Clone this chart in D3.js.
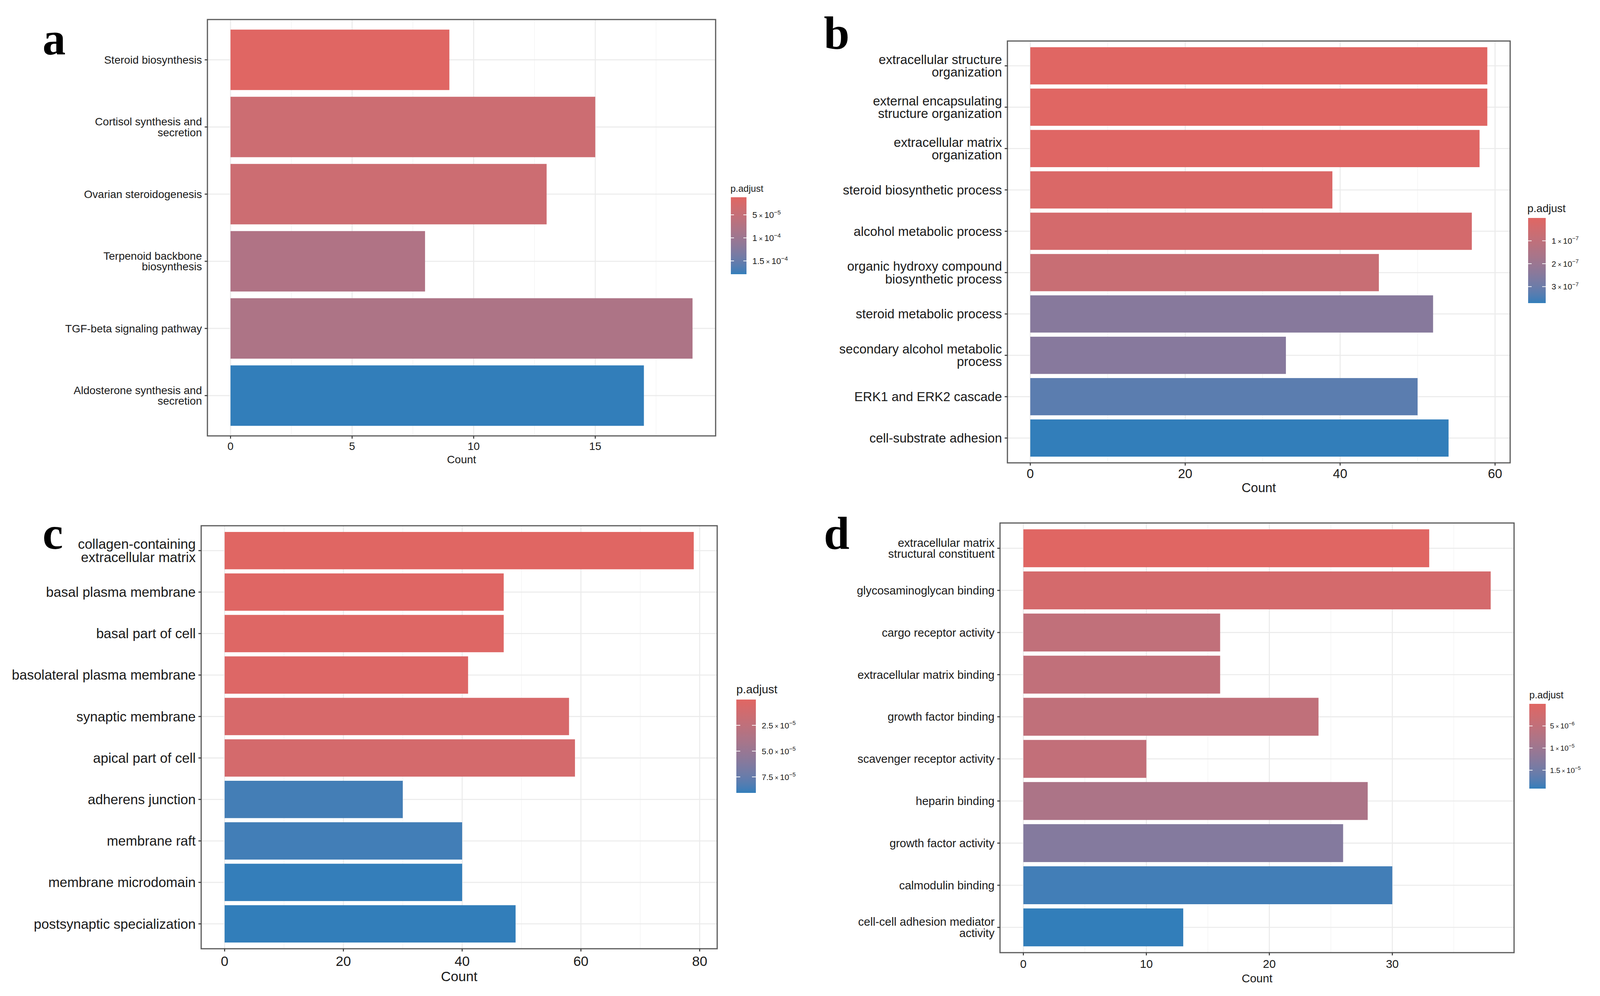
<!DOCTYPE html>
<html>
<head>
<meta charset="utf-8">
<script src="https://cdn.jsdelivr.net/npm/d3@7"></script>
<style>
  html, body { margin: 0; padding: 0; background: #fff; }
  svg { display: block; }
</style>
</head>
<body>
<svg id="chart" width="4120" height="2550"></svg>
<script>
// ---------------- DATA ----------------
// Panel a (KEGG)
const catsA = ["Steroid biosynthesis", "Cortisol synthesis and\nsecretion", "Ovarian steroidogenesis",
  "Terpenoid backbone\nbiosynthesis", "TGF-beta signaling pathway", "Aldosterone synthesis and\nsecretion"];
const countA = [9, 15, 13, 8, 19, 17];
const padjA = [1.19e-5, 4.03e-5, 4.05e-5, 7.7e-5, 8.0e-5, 1.788e-4];
const xTicksA = [0, 5, 10, 15];
const legTicksA = [5e-5, 1e-4, 1.5e-4];
const legLabelsA = [["5", "−5"], ["1", "−4"], ["1.5", "−4"]];

// Panel b (GO BP)
const catsB = ["extracellular structure\norganization", "external encapsulating\nstructure organization",
  "extracellular matrix\norganization", "steroid biosynthetic process", "alcohol metabolic process",
  "organic hydroxy compound\nbiosynthetic process", "steroid metabolic process",
  "secondary alcohol metabolic\nprocess", "ERK1 and ERK2 cascade", "cell-substrate adhesion"];
const countB = [59, 59, 58, 39, 57, 45, 52, 33, 50, 54];
const padjB = [2.0e-10, 5.0e-10, 3.1e-9, 1.9e-8, 3.7e-8, 7.5e-8, 2.46e-7, 2.47e-7, 3.27e-7, 3.72e-7];
const xTicksB = [0, 20, 40, 60];
const legTicksB = [1e-7, 2e-7, 3e-7];
const legLabelsB = [["1", "−7"], ["2", "−7"], ["3", "−7"]];

// Panel c (GO CC)
const catsC = ["collagen-containing\nextracellular matrix", "basal plasma membrane", "basal part of cell",
  "basolateral plasma membrane", "synaptic membrane", "apical part of cell", "adherens junction",
  "membrane raft", "membrane microdomain", "postsynaptic specialization"];
const countC = [79, 47, 47, 41, 58, 59, 30, 40, 40, 49];
const padjC = [2e-8, 1.0e-6, 1.8e-6, 2.7e-6, 7.2e-6, 9.0e-6, 8.65e-5, 8.7e-5, 9.02e-5, 9.05e-5];
const xTicksC = [0, 20, 40, 60, 80];
const legTicksC = [2.5e-5, 5e-5, 7.5e-5];
const legLabelsC = [["2.5", "−5"], ["5.0", "−5"], ["7.5", "−5"]];

// Panel d (GO MF)
const catsD = ["extracellular matrix\nstructural constituent", "glycosaminoglycan binding", "cargo receptor activity",
  "extracellular matrix binding", "growth factor binding", "scavenger receptor activity", "heparin binding",
  "growth factor activity", "calmodulin binding", "cell-cell adhesion mediator\nactivity"];
const countD = [33, 38, 16, 16, 24, 10, 28, 26, 30, 13];
const padjD = [1e-8, 1.9e-6, 5.0e-6, 5.0e-6, 5.1e-6, 4.8e-6, 8.0e-6, 1.3e-5, 1.84e-5, 1.916e-5];
const xTicksD = [0, 10, 20, 30];
const legTicksD = [5e-6, 1e-5, 1.5e-5];
const legLabelsD = [["5", "−6"], ["1", "−5"], ["1.5", "−5"]];

const panelLetters = ["a", "b", "c", "d"];
const xTitle = "Count";
const legendTitle = "p.adjust";
const lowColor = "#e06663", highColor = "#327eba";

// ---------------- LAYOUT ----------------
const layouts = [
  { box: {l: 531, r: 1832, t: 50, b: 1116}, fs: 28, tickOff: 36, titleOff: 70,
    leg: {x: 1871, w: 40, t: 505, b: 702, titleX: 1870, titleY: 491, titleFs: 24, labelX: 1926, labelFs: 22},
    letter: {x: 109, y: 139} },
  { box: {l: 2579, r: 3866, t: 105, b: 1185}, fs: 33, tickOff: 39, titleOff: 75,
    leg: {x: 3912, w: 45, t: 558, b: 776, titleX: 3910, titleY: 543, titleFs: 28, labelX: 3972, labelFs: 21},
    letter: {x: 2109, y: 124} },
  { box: {l: 515, r: 1836, t: 1346, b: 2429}, fs: 35, tickOff: 44, titleOff: 83,
    leg: {x: 1885, w: 50, t: 1791, b: 2030, titleX: 1885, titleY: 1775, titleFs: 30, labelX: 1950, labelFs: 21},
    letter: {x: 109, y: 1405} },
  { box: {l: 2560, r: 3876, t: 1339, b: 2439}, fs: 29.5, tickOff: 39, titleOff: 76,
    leg: {x: 3915, w: 42, t: 1802, b: 2019, titleX: 3915, titleY: 1788, titleFs: 25, labelX: 3968, labelFs: 19},
    letter: {x: 2109, y: 1405} }
];

const panels = [
  {cats: catsA, count: countA, padj: padjA, xt: xTicksA, lt: legTicksA, ll: legLabelsA},
  {cats: catsB, count: countB, padj: padjB, xt: xTicksB, lt: legTicksB, ll: legLabelsB},
  {cats: catsC, count: countC, padj: padjC, xt: xTicksC, lt: legTicksC, ll: legLabelsC},
  {cats: catsD, count: countD, padj: padjD, xt: xTicksD, lt: legTicksD, ll: legLabelsD}
];

const svg = d3.select("#chart");
const defs = svg.append("defs");
const FONT = "'Liberation Sans', Arial, sans-serif";

panels.forEach((p, pi) => {
  const L = layouts[pi];
  const box = L.box;
  const g = svg.append("g");
  const n = p.cats.length;
  const maxC = d3.max(p.count);

  const x = d3.scaleLinear().domain([-0.05 * maxC, 1.05 * maxC]).range([box.l, box.r]);
  const y = d3.scaleLinear().domain([0.4, n + 0.6]).range([box.t, box.b]);
  const ext = d3.extent(p.padj);
  const color = d3.scaleLinear().domain(ext).range([lowColor, highColor]).interpolate(d3.interpolateLab);

  g.append("rect").attr("x", box.l).attr("y", box.t).attr("width", box.r - box.l).attr("height", box.b - box.t)
    .attr("fill", "#fff");

  // minor grid
  const step = p.xt[1] - p.xt[0];
  const minor = [];
  for (let v = p.xt[0] - step / 2; v <= x.domain()[1]; v += step) {
    if (v >= x.domain()[0]) minor.push(v);
  }
  g.selectAll(".minor").data(minor).join("line")
    .attr("x1", d => x(d)).attr("x2", d => x(d)).attr("y1", box.t).attr("y2", box.b)
    .attr("stroke", "#f3f3f3").attr("stroke-width", 1.4);
  // major grid
  g.selectAll(".majx").data(p.xt).join("line")
    .attr("x1", d => x(d)).attr("x2", d => x(d)).attr("y1", box.t).attr("y2", box.b)
    .attr("stroke", "#ebebeb").attr("stroke-width", 2.6);
  g.selectAll(".majy").data(d3.range(1, n + 1)).join("line")
    .attr("x1", box.l).attr("x2", box.r).attr("y1", d => y(d)).attr("y2", d => y(d))
    .attr("stroke", "#ebebeb").attr("stroke-width", 2.6);

  // bars
  g.selectAll(".bar").data(p.count).join("rect")
    .attr("x", x(0))
    .attr("y", (d, i) => y(i + 1 - 0.45))
    .attr("width", d => x(d) - x(0))
    .attr("height", y(1.45) - y(0.55))
    .attr("fill", (d, i) => color(p.padj[i]));

  // border
  g.append("rect").attr("x", box.l).attr("y", box.t).attr("width", box.r - box.l).attr("height", box.b - box.t)
    .attr("fill", "none").attr("stroke", "#5a5a5a").attr("stroke-width", 3);

  // x axis
  const xa = g.append("g");
  xa.selectAll("line").data(p.xt).join("line")
    .attr("x1", d => x(d)).attr("x2", d => x(d)).attr("y1", box.b).attr("y2", box.b + 7)
    .attr("stroke", "#333").attr("stroke-width", 2.5);
  xa.selectAll("text").data(p.xt).join("text")
    .attr("x", d => x(d)).attr("y", box.b + L.tickOff)
    .attr("text-anchor", "middle").attr("font-family", FONT).attr("font-size", L.fs).attr("fill", "#1a1a1a")
    .text(d => d3.format("d")(d));
  g.append("text").attr("x", (box.l + box.r) / 2).attr("y", box.b + L.titleOff)
    .attr("text-anchor", "middle").attr("font-family", FONT).attr("font-size", L.fs).attr("fill", "#1a1a1a")
    .text(xTitle);

  // y axis
  const ya = g.append("g");
  ya.selectAll("line").data(d3.range(1, n + 1)).join("line")
    .attr("x1", box.l - 7).attr("x2", box.l).attr("y1", d => y(d)).attr("y2", d => y(d))
    .attr("stroke", "#333").attr("stroke-width", 2.5);
  const lh = L.fs * 0.98;
  p.cats.forEach((c, i) => {
    const lines = c.split("\n");
    const cy = y(i + 1);
    const t = ya.append("text").attr("text-anchor", "end").attr("font-family", FONT)
      .attr("font-size", L.fs).attr("fill", "#1a1a1a");
    lines.forEach((ln, k) => {
      t.append("tspan").attr("x", box.l - 14)
        .attr("y", cy + (k - (lines.length - 1) / 2) * lh + L.fs * 0.35)
        .text(ln);
    });
  });

  // legend
  const lg = L.leg;
  const gid = "grad" + pi;
  const grad = defs.append("linearGradient").attr("id", gid).attr("x1", 0).attr("x2", 0).attr("y1", 0).attr("y2", 1);
  d3.range(0, 21).forEach(k => {
    const v = ext[0] + (ext[1] - ext[0]) * k / 20;
    grad.append("stop").attr("offset", (k * 5) + "%").attr("stop-color", color(v));
  });
  g.append("text").attr("x", lg.titleX).attr("y", lg.titleY).attr("font-family", FONT)
    .attr("font-size", lg.titleFs).attr("fill", "#1a1a1a").text(legendTitle);
  g.append("rect").attr("x", lg.x).attr("y", lg.t).attr("width", lg.w).attr("height", lg.b - lg.t)
    .attr("fill", `url(#${gid})`);
  const ly = d3.scaleLinear().domain(ext).range([lg.t, lg.b]);
  const tl = lg.w / 5;
  p.lt.forEach((v, k) => {
    const yy = ly(v);
    g.append("line").attr("x1", lg.x).attr("x2", lg.x + tl).attr("y1", yy).attr("y2", yy)
      .attr("stroke", "#fff").attr("stroke-width", 1.8);
    g.append("line").attr("x1", lg.x + lg.w - tl).attr("x2", lg.x + lg.w).attr("y1", yy).attr("y2", yy)
      .attr("stroke", "#fff").attr("stroke-width", 1.8);
    const t = g.append("text").attr("x", lg.labelX).attr("y", yy + lg.labelFs * 0.36)
      .attr("font-family", FONT).attr("font-size", lg.labelFs).attr("fill", "#1a1a1a");
    t.append("tspan").text(p.ll[k][0] + "\u2009");
    t.append("tspan").attr("font-size", lg.labelFs * 0.75).text("×");
    t.append("tspan").text("\u200910");
    t.append("tspan").attr("font-size", lg.labelFs * 0.7).attr("dy", -lg.labelFs * 0.42).text(p.ll[k][1]);
  });

  // panel letter
  svg.append("text").attr("x", L.letter.x).attr("y", L.letter.y)
    .attr("font-family", "'Liberation Serif', 'Times New Roman', serif").attr("font-weight", "bold")
    .attr("font-size", 118).attr("fill", "#000").text(panelLetters[pi]);
});
</script>
</body>
</html>
